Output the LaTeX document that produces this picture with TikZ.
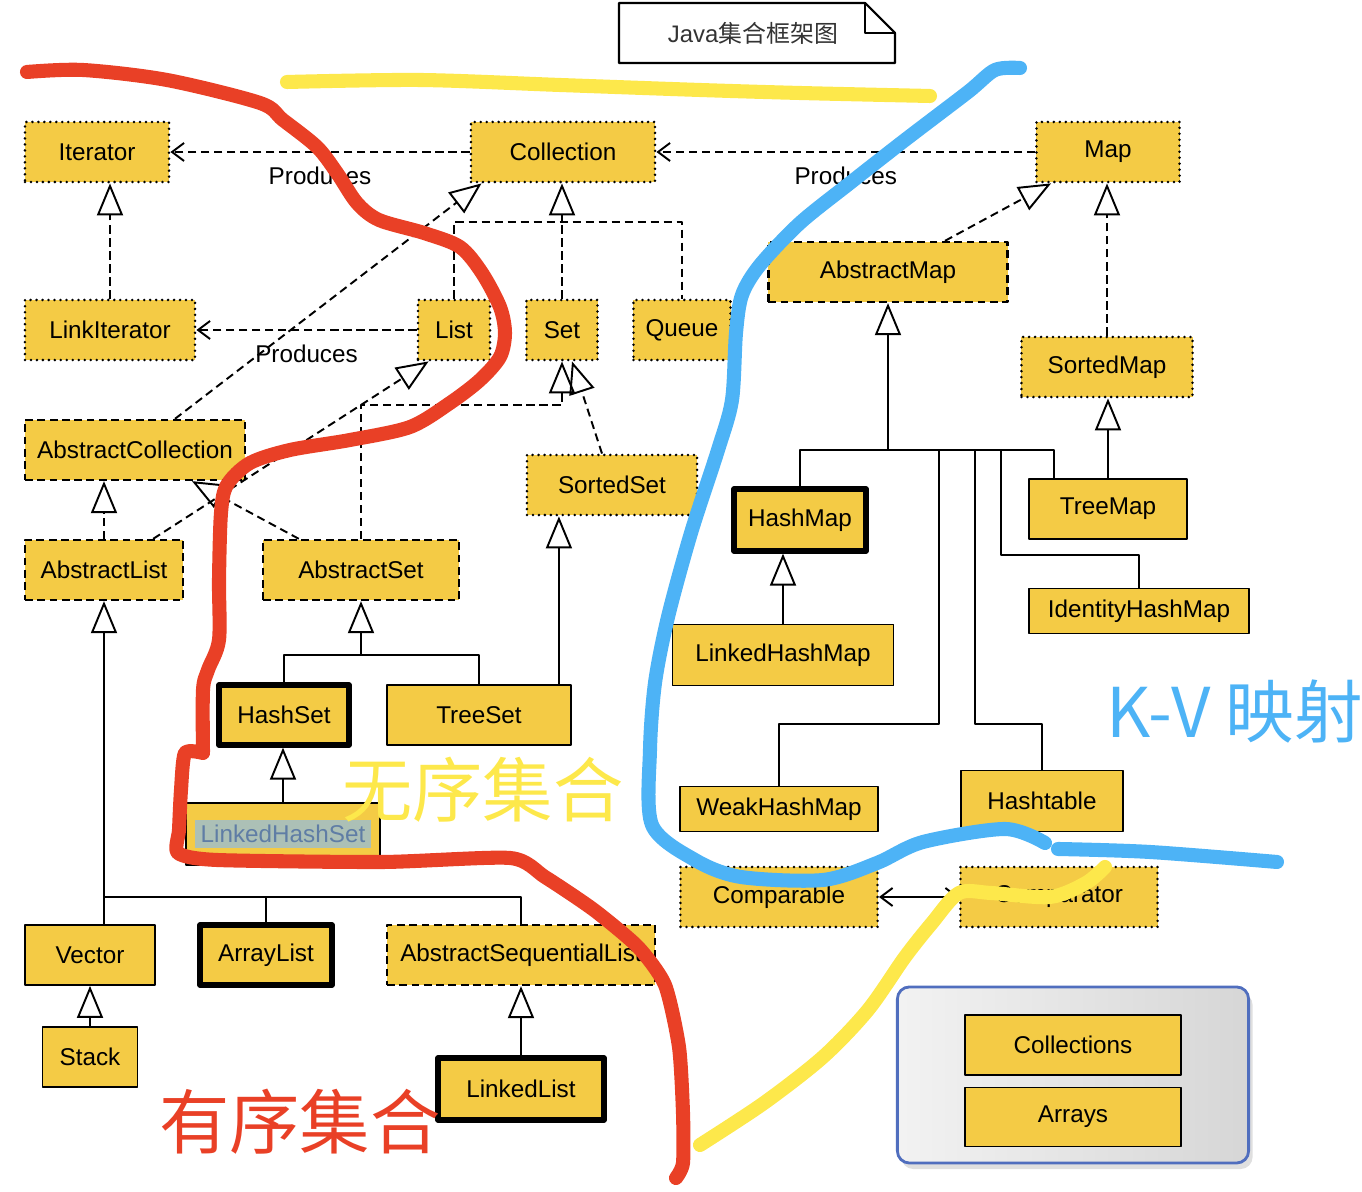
\documentclass[tikz,border=0pt]{standalone}
\usepackage{fontspec}
\setmainfont{Liberation Sans}
\newfontfamily\cjk{Noto Sans CJK SC}
\usetikzlibrary{arrows.meta,calc,shadows}

\definecolor{boxfill}{RGB}{244,203,69}
\definecolor{penred}{RGB}{233,64,38}
\definecolor{penyellow}{RGB}{253,232,75}
\definecolor{penblue}{RGB}{77,179,246}
\definecolor{groupline}{RGB}{80,110,190}
\definecolor{selbg}{RGB}{172,192,182}
\definecolor{seltext}{RGB}{95,125,165}

\begin{document}
\begin{tikzpicture}[x=0.01cm, y=-0.01cm, line join=round,
  cls/.style={draw, fill=boxfill, line width=0.5pt, inner sep=0pt,
    minimum height=0.6cm, font=\fontsize{6.9}{8}\selectfont},
  iface/.style={cls, line width=0.8pt, line cap=round, dash pattern=on 0pt off 1.7pt},
  abst/.style={cls, line width=0.65pt, dash pattern=on 2.2pt off 1.3pt},
  conc/.style={cls, line width=1.5pt},
  sline/.style={line width=0.55pt},
  dline/.style={line width=0.55pt, dash pattern=on 2.3pt off 1.4pt},
  ext/.style={sline, -{Triangle[open, length=0.32cm, width=0.26cm]}},
  impl/.style={dline, -{Triangle[open, length=0.32cm, width=0.26cm]}},
  uses/.style={dline, -{Straight Barb[length=1.2mm, width=1.8mm]}},
  lbl/.style={font=\fontsize{6.9}{8}\selectfont, inner sep=1pt},
  pen/.style={line width=4pt, line cap=round, line join=round},
  bigtext/.style={font=\cjk\fontsize{20}{22}\selectfont, inner sep=0pt}]
  \useasboundingbox (0,0) rectangle (1362,1192);

  % --- Tiêu đề ---
  \draw[line width=0.6pt] (619,3) -- (865,3) -- (895,33) -- (895,63) -- (619,63) -- cycle;
  \draw[line width=0.6pt] (865,3) -- (865,33) -- (895,33);
  \node[font=\fontsize{6.8}{8}\selectfont, text=black!80] (title) at (753,33) {Java{\cjk 集合框架图}};

  % --- Giao diện ---
  \node[iface, minimum width=1.44cm] (Iterator) at (97,152) {Iterator};
  \node[iface, minimum width=1.84cm] (Collection) at (563,152) {Collection};
  \node[iface, minimum width=1.43cm] (Map) at (1108,152) {Map};
  \node[iface, minimum width=1.70cm] (LinkIterator) at (110,330) {LinkIterator};
  \node[iface, minimum width=0.72cm] (List) at (454,330) {List};
  \node[iface, minimum width=0.71cm] (Set) at (562,330) {Set};
  \node[iface, minimum width=0.97cm] (Queue) at (682,330) {Queue};
  \node[iface, minimum width=1.71cm] (SortedMap) at (1107,367) {SortedMap};
  \node[iface, minimum width=1.70cm] (SortedSet) at (612,485) {SortedSet};
  \node[iface, minimum width=1.97cm] (Comparable) at (779,897) {Comparable};
  \node[iface, minimum width=1.97cm] (Comparator) at (1059,897) {Comparator};

  % --- Lớp trừu tượng ---
  \node[abst, minimum width=2.39cm] (AbstractMap) at (888,272) {AbstractMap};
  \node[abst, minimum width=2.20cm] (AbstractCollection) at (135,450) {AbstractCollection};
  \node[abst, minimum width=1.58cm] (AbstractList) at (104,570) {AbstractList};
  \node[abst, minimum width=1.96cm] (AbstractSet) at (361,570) {AbstractSet};
  \node[abst, minimum width=2.68cm] (AbstractSequentialList) at (521,955) {AbstractSequentialList};

  % --- Lớp cụ thể ---
  \node[conc, minimum width=1.32cm, minimum height=0.62cm] (HashMap) at (800,520) {HashMap};
  \node[cls, minimum width=1.58cm] (TreeMap) at (1108,509) {TreeMap};
  \node[cls, minimum width=2.20cm, minimum height=0.45cm] (IdentityHashMap) at (1139,611) {IdentityHashMap};
  \node[cls, minimum width=2.21cm, minimum height=0.61cm] (LinkedHashMap) at (783,655) {LinkedHashMap};
  \node[cls, minimum width=1.98cm, minimum height=0.45cm] (WeakHashMap) at (779,809) {WeakHashMap};
  \node[cls, minimum width=1.62cm, minimum height=0.61cm] (Hashtable) at (1042,801) {Hashtable};
  \node[conc, minimum width=1.30cm] (HashSet) at (284,715) {HashSet};
  \node[cls, minimum width=1.84cm] (TreeSet) at (479,715) {TreeSet};
  \node[cls, minimum width=1.94cm, minimum height=0.62cm] (LinkedHashSet) at (283,834)
    {{\fboxsep=1.5pt\colorbox{selbg}{\textcolor{seltext}{LinkedHashSet}}}};
  \node[cls, minimum width=1.30cm] (Vector) at (90,955) {Vector};
  \node[conc, minimum width=1.32cm] (ArrayList) at (266,955) {ArrayList};
  \node[cls, minimum width=0.95cm] (Stack) at (90,1057) {Stack};
  \node[conc, minimum width=1.66cm, minimum height=0.62cm] (LinkedList) at (521,1089) {LinkedList};

  % --- Lớp tiện ích ---
  \node[draw=groupline, line width=0.8pt, rounded corners=0.12cm, left color=black!5,
    right color=black!16, drop shadow={opacity=0.25, shadow xshift=0.04cm, shadow yshift=-0.06cm},
    minimum width=3.51cm, minimum height=1.76cm] (utils) at (1073,1075) {};
  \node[cls, minimum width=2.16cm] (Collections) at (1073,1045) {Collections};
  \node[cls, minimum width=2.16cm, minimum height=0.59cm] (Arrays) at (1073,1117) {Arrays};

  % --- Produces ---
  \draw[uses] (Collection) -- (Iterator) node[lbl, midway, below=3pt] (prodA) {Produces};
  \draw[uses] (Map) -- (Collection) node[lbl, midway, below=3pt] (prodB) {Produces};
  \draw[uses] (List) -- (LinkIterator) node[lbl, midway, below=3pt] (prodC) {Produces};
  \draw[sline, {Straight Barb[length=1.2mm, width=1.8mm]}-{Straight Barb[length=1.2mm, width=1.8mm]}]
    (Comparable) -- (Comparator);

  % --- Cây Collection ---
  \draw[impl] (LinkIterator.north) -- (LinkIterator.north |- Iterator.south);
  \coordinate (colJ) at (562,222);
  \draw[dline] (List.north) -- (List.north |- colJ) -- (Queue.north |- colJ) -- (Queue.north);
  \draw[dline] (Set.north) -- (colJ);
  \draw[impl] (colJ) -- (colJ |- Collection.south);
  \draw[impl] ($(AbstractCollection.north)+(40,0)$) -- ($(Collection.south west)+(12,0)$);
  \draw[impl] ($(AbstractList.north east)+(-31,0)$) -- ($(List.south west)+(12,0)$);
  \draw[impl] ($(AbstractSet.north west)+(37,0)$) -- ($(AbstractCollection.south)+(57,0)$);
  \draw[impl] (AbstractList.north) -- (AbstractList.north |- AbstractCollection.south);
  \coordinate (setJ) at (562,405);
  \draw[impl] (AbstractSet.north) |- (setJ) -- (setJ |- Set.south);
  \draw[impl] ($(SortedSet.north)+(-10,0)$) -- ($(Set.south)+(10,0)$);

  % --- Set ---
  \coordinate (hsJ) at (361,655);
  \draw[sline] (HashSet.north) -- (HashSet.north |- hsJ) -- (TreeSet.north |- hsJ) -- (TreeSet.north);
  \draw[ext] (hsJ) -- (hsJ |- AbstractSet.south);
  \coordinate (tsTop) at ($(TreeSet.north east)+(-13,0)$);
  \draw[ext] (tsTop) -- (tsTop |- SortedSet.south);
  \draw[ext] (LinkedHashSet.north) -- (LinkedHashSet.north |- HashSet.south);

  % --- List ---
  \coordinate (listJ) at (104,897);
  \draw[sline] (listJ |- Vector.north) -- (listJ) -- (AbstractSequentialList.north |- listJ)
    -- (AbstractSequentialList.north);
  \draw[sline] (ArrayList.north) -- (ArrayList.north |- listJ);
  \draw[ext] (listJ) -- (listJ |- AbstractList.south);
  \draw[ext] (Stack.north) -- (Stack.north |- Vector.south);
  \draw[ext] (LinkedList.north) -- (LinkedList.north |- AbstractSequentialList.south);

  % --- Map ---
  \draw[impl] ($(AbstractMap.north)+(57,0)$) -- ($(Map.south west)+(16,0)$);
  \draw[impl] (SortedMap.north) -- (SortedMap.north |- Map.south);
  \draw[ext] (TreeMap.north) -- (TreeMap.north |- SortedMap.south);
  \coordinate (mapJ) at (888,450);
  \draw[ext] (mapJ) -- (mapJ |- AbstractMap.south);
  \draw[sline] (HashMap.north) |- (mapJ);
  \draw[sline] (mapJ) -| ($(TreeMap.north west)+(26,0)$);
  \coordinate (idJ) at (1001,450);
  \draw[sline] (idJ) -- ++(0,105) -| (IdentityHashMap.north);
  \coordinate (whJ) at (939,450);
  \draw[sline] (whJ) -- ++(0,274) -| (WeakHashMap.north);
  \coordinate (htJ) at (975,450);
  \draw[sline] (htJ) -- ++(0,274) -| (Hashtable.north);
  \draw[ext] (LinkedHashMap.north) -- (LinkedHashMap.north |- HashMap.south);

  % --- Nét bút tay ---
  \draw[pen, penyellow] plot[smooth, tension=0.5] coordinates {(287,82) (420,80) (560,85) (700,90) (800,93) (930,96)};
  \draw[pen, penred] plot[smooth, tension=0.5] coordinates {(27,72) (83,70) (167,80) (260,103) (283,120)
    (317,147) (337,173) (357,203) (379,220) (424,233) (460,247) (482,273) (500,307) (505,333)
    (500,357) (480,380) (450,403) (410,427) (350,440) (290,450) (250,463) (227,485) (221,513)
    (219,580) (219,640) (208,670) (203,690) (203,752)};
  \draw[pen, penred] plot[smooth, tension=0.4] coordinates {(203,753) (185,753) (181,790) (179,830)
    (178,853) (217,860) (383,862) (510,858) (545,877) (594,910) (638,947) (665,985) (679,1047)
    (683,1113) (683,1163) (676,1178)};
  \draw[pen, penblue] plot[smooth, tension=0.5] coordinates {(1020,68) (995,70) (968,92) (905,140)
    (850,183) (800,223) (760,265) (742,295) (736,333) (732,400) (718,450) (691,533) (668,617)
    (655,683) (650,750) (652,825) (695,860) (741,877) (823,880) (877,863) (923,842) (1005,829)
    (1045,843)};
  \draw[pen, penblue] plot[smooth, tension=0.5] coordinates {(1058,849) (1150,852) (1277,862)};
  \draw[pen, penyellow] plot[smooth, tension=0.5] coordinates {(700,1145) (764,1103) (823,1057)
    (868,1010) (905,957) (932,923) (959,893) (991,893) (1050,897) (1086,883) (1105,867)};

  % --- Chữ viết tay ---
  \node[bigtext, text=penyellow] (unordered) at (483,790) {无序集合};
  \node[bigtext, text=penred] (ordered) at (300,1122) {有序集合};
  \node[bigtext, text=penblue, font=\cjk\fontsize{19.5}{21}\selectfont] (kvmap) at (1235,712) {K-V 映射};
\end{tikzpicture}
\end{document}
